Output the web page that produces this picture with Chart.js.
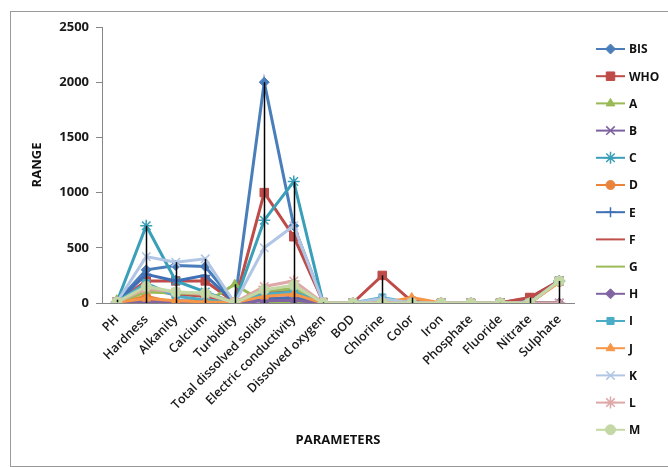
<!DOCTYPE html>
<html>
<head>
<meta charset="utf-8">
<script src="https://cdn.jsdelivr.net/npm/chart.js@4.4.1/dist/chart.umd.min.js"></script>
<style>
  html, body { margin: 0; padding: 0; background: #fff; }
  #wrap { position: relative; width: 668px; height: 467px; }
</style>
</head>
<body>
<div id="wrap"><canvas id="chart"></canvas></div>
<script>
// ===== Datos =====
const categories = ["PH", "Hardness", "Alkanity", "Calcium", "Turbidity",
  "Total dissolved solids", "Electric conductivity", "Dissolved oxygen", "BOD",
  "Chlorine", "Color", "Iron", "Phosphate", "Fluoride", "Nitrate", "Sulphate"];

const yTicks = [0, 500, 1000, 1500, 2000, 2500];

const bis = [8.5, 300, 340, 330, 5, 2000, 700, 5, 2, 0.2, 5, 0.3, 0, 1, 45, 200];
const who = [8.5, 200, 200, 200, 5, 1000, 600, 5, 0, 250, 15, 0.3, 0, 1.5, 50, 200];
const seriesA = [30, 0, 0, 0, 170, 0, 0, 0, 0, 0, 0, 0, 0, 0, 0, 0];
const seriesB = [7, 30, 20, 15, 5, 40, 50, 0, 0, 0, 0, 0, 0, 0, 0, 0];
const seriesC = [7, 700, 200, 100, 0, 750, 1100, 0, 0, 10, 0, 0, 0, 0, 0, 200];
const seriesD = [7, 60, 0, 40, 10, 70, 90, 0, 0, 0, 10, 0, 0, 0, 0, 190];
const seriesE = [7, 260, 200, 250, 5, 30, 45, 0, 0, 0, 0, 0, 0, 0, 0, 0];
const seriesF = [7, 120, 80, 60, 5, 90, 110, 0, 0, 0, 0, 0, 0, 0, 0, 0];
const seriesG = [7, 100, 90, 80, 10, 110, 130, 0, 0, 0, 0, 0, 0, 0, 0, 0];
const seriesH = [7, 10, 5, 20, 0, 20, 25, 0, 0, 0, 0, 0, 0, 0, 0, 0];
const seriesI = [7, 180, 60, 30, 0, 80, 100, 0, 0, 50, 0, 0, 0, 0, 0, 200];
const seriesJ = [7, 40, 20, 10, 5, 60, 80, 0, 0, 0, 50, 0, 0, 0, 0, 190];
const seriesK = [7, 420, 370, 400, 0, 500, 700, 0, 0, 40, 0, 0, 0, 0, 0, 200];
const seriesL = [7, 130, 100, 80, 5, 150, 200, 0, 0, 0, 0, 0, 0, 0, 0, 0];
const seriesM = [7, 150, 100, 90, 0, 120, 160, 0, 0, 0, 0, 0, 0, 0, 0, 200];

// nombre, datos, color, marcador, radio
const seriesDefs = [
  ["BIS", bis, "#4A7EBB", "rectRot", 5],
  ["WHO", who, "#BE4B48", "rect", 6],
  ["A", seriesA, "#98B954", "triangle", 5],
  ["B", seriesB, "#7D60A0", "crossRot", 6],
  ["C", seriesC, "#3A9FB8", "star", 6],
  ["D", seriesD, "#E8843C", "circle", 4.5],
  ["E", seriesE, "#3F6FB5", "cross", 5],
  ["F", seriesF, "#C0504D", "dash", 4],
  ["G", seriesG, "#9BBB59", "line", 5],
  ["H", seriesH, "#8064A2", "rectRot", 5],
  ["I", seriesI, "#4BACC6", "rect", 5],
  ["J", seriesJ, "#F79646", "triangle", 5],
  ["K", seriesK, "#B0C6E4", "crossRot", 6],
  ["L", seriesL, "#DDA8A7", "star", 6],
  ["M", seriesM, "#C4D8A5", "circle", 5],
];

const FONT = "'Open Sans', 'DejaVu Sans', sans-serif";

const datasets = seriesDefs.map(([label, data, color, style, r], i) => ({
  label,
  data,
  borderColor: color,
  backgroundColor: color,
  borderWidth: 3,
  pointStyle: style,
  pointRadius: r,
  pointBorderWidth: (style === "crossRot" || style === "star" || style === "cross") ? 1.5 : 1,
  pointBorderColor: color,
  pointBackgroundColor: color,
  tension: 0,
  order: seriesDefs.length - i,
}));

// Marco del gráfico
const framePlugin = {
  id: "frame",
  beforeDraw(chart) {
    const ctx = chart.ctx;
    ctx.save();
    ctx.strokeStyle = "#9a9a9a";
    ctx.lineWidth = 1;
    ctx.strokeRect(10.5, 11.5, 700, 455);
    ctx.restore();
  },
};

// Líneas máximo-mínimo por categoría
const hiLoPlugin = {
  id: "hiLo",
  afterDatasetsDraw(chart) {
    const ctx = chart.ctx;
    const xs = chart.scales.x, ys = chart.scales.y;
    ctx.save();
    ctx.strokeStyle = "#000";
    ctx.lineWidth = 1.5;
    categories.forEach((c, i) => {
      const vals = chart.data.datasets.map((d) => d.data[i]);
      const hi = Math.max(...vals), lo = Math.min(...vals);
      if (hi === lo) return;
      const x = Math.round(xs.getPixelForValue(i)) + 0.5;
      ctx.beginPath();
      ctx.moveTo(x, ys.getPixelForValue(hi));
      ctx.lineTo(x, ys.getPixelForValue(lo));
      ctx.stroke();
    });
    ctx.restore();
  },
};

// Leyenda a la derecha (línea + marcador)
const legendPlugin = {
  id: "sideLegend",
  afterDraw(chart) {
    const ctx = chart.ctx;
    ctx.save();
    chart.data.datasets.forEach((d, i) => {
      const y = 49 + i * 27.2;
      ctx.strokeStyle = d.borderColor;
      ctx.lineWidth = 2;
      ctx.beginPath();
      ctx.moveTo(596, y);
      ctx.lineTo(625, y);
      ctx.stroke();
      ctx.fillStyle = d.backgroundColor;
      ctx.strokeStyle = d.borderColor;
      ctx.lineWidth = d.pointBorderWidth;
      Chart.helpers.drawPoint(ctx, { pointStyle: d.pointStyle, radius: d.pointRadius, borderWidth: d.pointBorderWidth, rotation: 0 }, 610.5, y);
      ctx.fillStyle = "#111";
      ctx.font = "bold 12px " + FONT;
      ctx.textBaseline = "middle";
      ctx.textAlign = "left";
      ctx.fillText(d.label, 629, y + 1);
    });
    ctx.restore();
  },
};

const chart = new Chart(document.getElementById("chart").getContext("2d"), {
  type: "line",
  data: { labels: categories, datasets },
  plugins: [framePlugin, hiLoPlugin, legendPlugin],
  options: {
    responsive: true,
    maintainAspectRatio: false,
    animation: false,
    layout: { padding: { top: 27, right: 94, left: 0, bottom: 0 } },
    plugins: {
      legend: { display: false },
      tooltip: { enabled: false },
    },
    scales: {
      x: {
        offset: true,
        afterFit: (s) => { s.height = 164; },
        grid: { drawOnChartArea: false, drawTicks: false },
        border: { color: "#868686", width: 1 },
        ticks: {
          autoSkip: false,
          maxRotation: 45,
          minRotation: 45,
          padding: 9,
          color: "#1a1a1a",
          font: { family: FONT, size: 12.5, weight: "600" },
        },
        title: {
          display: true,
          text: "PARAMETERS",
          color: "#111",
          font: { family: FONT, size: 13, weight: "bold" },
          padding: { top: 0, bottom: 19 },
        },
      },
      y: {
        min: 0,
        max: 2500,
        afterFit: (s) => { s.width = 102; },
        afterBuildTicks: (s) => { s.ticks = yTicks.map((v) => ({ value: v })); },
        grid: { drawOnChartArea: false, drawTicks: true, tickLength: 6, tickColor: "#868686" },
        border: { color: "#868686", width: 1 },
        ticks: {
          padding: 7,
          color: "#1a1a1a",
          font: { family: FONT, size: 13, weight: "bold" },
          callback: (v) => String(v),
        },
        title: {
          display: true,
          text: "RANGE",
          color: "#111",
          font: { family: FONT, size: 13, weight: "bold" },
          padding: { top: 29, bottom: 0 },
        },
      },
    },
  },
});
</script>
</body>
</html>
